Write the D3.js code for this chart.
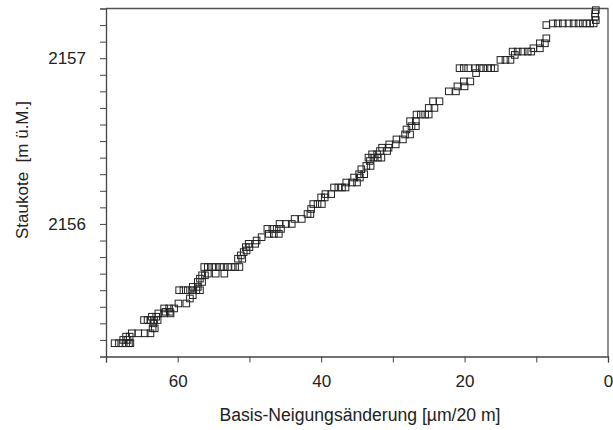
<!DOCTYPE html>
<html>
<head>
<meta charset="utf-8">
<script src="https://cdn.jsdelivr.net/npm/d3@7"></script>
<style>
  body { margin: 0; background: #fff; }
  text { font-family: "Liberation Sans", Arial, sans-serif; fill: #222; }
</style>
</head>
<body>
<script>
// Basis-Neigungsänderung [µm/20 m] (x) und Staukote [m ü.M.] (y)
const neigung = [
  68.8, 68.2, 67.7, 67.2, 66.8, 66.6,
  67.6, 67.0,
  67.2, 66.7,
  66.4, 65.5, 64.6, 63.8,
  63.5, 63.2,
  63.4,
  64.7, 64.2, 63.8, 63.3, 62.8,
  63.6, 63.0,
  62.7, 61.9, 61.0, 61.7, 61.1,
  61.9, 61.2, 60.5,
  59.9, 58.8,
  58.3,
  57.9,
  59.8, 59.2, 58.6, 58.0, 57.4, 56.9,
  57.9, 57.2,
  57.2, 56.6,
  56.9,
  56.6, 56.2,
  55.8, 54.7, 53.5,
  56.3, 55.8, 55.2, 54.7, 54.1, 53.6, 53.0, 52.5, 52.0, 51.4,
  51.6, 51.0,
  51.2,
  50.8, 50.4,
  50.5, 50.0,
  50.1, 49.2,
  49.0,
  48.3,
  47.3, 46.6, 45.9,
  47.5, 46.8, 46.2, 45.6,
  45.8, 44.9, 44.1,
  43.7, 42.7,
  41.9, 41.5,
  41.4,
  41.1, 40.5, 39.9,
  40.0, 39.5,
  39.4, 38.6,
  38.2, 37.6, 37.1, 36.6,
  36.5, 35.7, 35.0,
  35.4, 34.6,
  34.7, 34.0,
  34.4,
  33.7, 33.1,
  33.2,
  33.4, 32.7, 32.1, 31.6,
  32.9, 32.2,
  31.8, 30.8,
  31.5, 30.6,
  30.5, 29.6,
  29.5, 28.6,
  28.3, 27.6,
  28.1,
  27.4, 26.8,
  27.6, 26.8,
  26.7, 26.1, 25.5, 25.0,
  25.0, 24.2,
  24.4, 23.5,
  22.2, 21.2,
  21.0, 20.0,
  20.1, 19.2,
  18.4,
  20.7, 20.1, 19.5, 18.5, 17.9, 17.4, 16.8, 16.3, 15.8,
  15.0, 14.3, 13.6,
  13.0,
  13.3, 12.6, 11.9, 11.2, 10.7,
  10.4, 9.5,
  9.5, 8.8,
  8.6,
  8.6,
  7.7, 7.0, 6.3, 5.5, 4.8, 4.1, 3.5, 3.0, 2.5, 2.0,
  1.7, 1.8, 1.8, 1.7
];

const staukote = [
  2155.28, 2155.28, 2155.28, 2155.28, 2155.28, 2155.28,
  2155.30, 2155.30,
  2155.32, 2155.32,
  2155.34, 2155.34, 2155.34, 2155.34,
  2155.37, 2155.37,
  2155.40,
  2155.42, 2155.42, 2155.42, 2155.42, 2155.42,
  2155.44, 2155.44,
  2155.46, 2155.46, 2155.46, 2155.47, 2155.47,
  2155.49, 2155.49, 2155.49,
  2155.52, 2155.52,
  2155.55,
  2155.57,
  2155.60, 2155.60, 2155.60, 2155.60, 2155.60, 2155.60,
  2155.62, 2155.62,
  2155.65, 2155.65,
  2155.67,
  2155.69, 2155.69,
  2155.70, 2155.70, 2155.70,
  2155.74, 2155.74, 2155.74, 2155.74, 2155.74, 2155.74, 2155.74, 2155.74, 2155.74, 2155.74,
  2155.79, 2155.79,
  2155.81,
  2155.83, 2155.84,
  2155.86, 2155.86,
  2155.88, 2155.88,
  2155.90,
  2155.92,
  2155.94, 2155.94, 2155.94,
  2155.97, 2155.97, 2155.97, 2155.97,
  2156.00, 2156.00, 2156.00,
  2156.03, 2156.03,
  2156.06, 2156.06,
  2156.09,
  2156.12, 2156.12, 2156.12,
  2156.16, 2156.16,
  2156.18, 2156.18,
  2156.22, 2156.22, 2156.22, 2156.22,
  2156.25, 2156.25, 2156.25,
  2156.28, 2156.28,
  2156.30, 2156.30,
  2156.33,
  2156.35, 2156.35,
  2156.38,
  2156.40, 2156.40, 2156.40, 2156.40,
  2156.42, 2156.42,
  2156.44, 2156.44,
  2156.46, 2156.46,
  2156.48, 2156.48,
  2156.51, 2156.51,
  2156.54, 2156.54,
  2156.57,
  2156.59, 2156.59,
  2156.62, 2156.62,
  2156.66, 2156.66, 2156.66, 2156.66,
  2156.70, 2156.70,
  2156.74, 2156.74,
  2156.80, 2156.80,
  2156.83, 2156.83,
  2156.86, 2156.86,
  2156.91,
  2156.94, 2156.94, 2156.94, 2156.94, 2156.94, 2156.94, 2156.94, 2156.94, 2156.94,
  2156.99, 2156.99, 2156.99,
  2157.02,
  2157.04, 2157.04, 2157.04, 2157.04, 2157.04,
  2157.06, 2157.06,
  2157.09, 2157.09,
  2157.12,
  2157.20,
  2157.21, 2157.21, 2157.21, 2157.21, 2157.21, 2157.21, 2157.21, 2157.21, 2157.21, 2157.21,
  2157.23, 2157.25, 2157.27, 2157.29
];

const xTicks = [70, 60, 50, 40, 30, 20, 10, 0];
const xTickLabels = [60, 40, 20, 0];
const yTicks = [2155.3, 2155.4, 2155.5, 2155.6, 2155.7, 2155.8, 2155.9, 2156.0,
                2156.1, 2156.2, 2156.3, 2156.4, 2156.5, 2156.6, 2156.7, 2156.8,
                2156.9, 2157.0, 2157.1, 2157.2];
const yTickLabels = [2156, 2157];

function main() {
  const width = 613, height = 430;
  const left = 106, right = 608, top = 8.5, bottom = 356.5;

  const svg = d3.select("body")
    .append("svg")
    .attr("width", width)
    .attr("height", height);

  const x = d3.scaleLinear().domain([70, 0]).range([left, right]);
  const y = d3.scaleLinear().domain([2155.2, 2157.3]).range([bottom, top]);

  // frame (top + right)
  svg.append("path")
    .attr("d", `M${left},${top}H${right}V${bottom}`)
    .attr("fill", "none")
    .attr("stroke", "#555")
    .attr("stroke-width", 1.3);

  const xAxis = svg.append("g")
    .attr("transform", `translate(0,${bottom})`)
    .call(d3.axisBottom(x).tickValues(xTicks).tickSize(6)
      .tickFormat(d => xTickLabels.includes(d) ? d : ""));
  xAxis.select(".domain").attr("stroke", "#444").attr("stroke-width", 1.3);
  xAxis.selectAll(".tick line").attr("stroke", "#444");
  xAxis.selectAll(".tick text")
    .attr("font-size", 17)
    .attr("dy", 0)
    .attr("y", 30)
    .attr("fill", "#222")
    .attr("font-family", "Liberation Sans, Arial, sans-serif");

  const yAxis = svg.append("g")
    .attr("transform", `translate(${left},0)`)
    .call(d3.axisLeft(y).tickValues(yTicks).tickSize(6)
      .tickFormat(d => yTickLabels.includes(d) ? d : ""));
  yAxis.select(".domain").attr("stroke", "#444").attr("stroke-width", 1.3);
  yAxis.selectAll(".tick line").attr("stroke", "#444");
  yAxis.selectAll(".tick text")
    .attr("font-size", 17)
    .attr("x", -20)
    .attr("fill", "#222")
    .attr("font-family", "Liberation Sans, Arial, sans-serif");

  const pts = neigung.map((v, i) => ({x: v, y: staukote[i]}));
  const s = 6.6;
  svg.append("g")
    .selectAll("rect")
    .data(pts)
    .join("rect")
      .attr("x", d => x(d.x) - s / 2)
      .attr("y", d => y(d.y) - s / 2)
      .attr("width", s)
      .attr("height", s)
      .attr("fill", "none")
      .attr("stroke", "#222")
      .attr("stroke-width", 1);

  svg.append("text")
    .attr("x", 360)
    .attr("y", 421)
    .attr("text-anchor", "middle")
    .attr("font-size", 17.6)
    .text("Basis-Neigungsänderung [µm/20 m]");

  svg.append("text")
    .attr("transform", `translate(28,${170}) rotate(-90)`)
    .attr("text-anchor", "middle")
    .attr("font-size", 17)
    .attr("xml:space", "preserve")
    .style("white-space", "pre")
    .text("Staukote  [m ü.M.]");
}

window.addEventListener("load", main);
</script>
</body>
</html>
